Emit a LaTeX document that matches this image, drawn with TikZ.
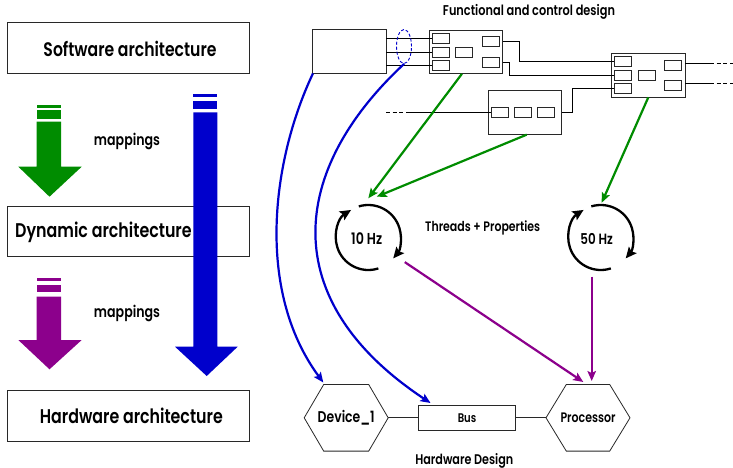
\documentclass[tikz,border=0pt]{standalone}
\usepackage{fontspec}
\setmainfont{Poppins}[FakeStretch=0.8,BoldFont={* SemiBold}]
\usetikzlibrary{arrows.meta,shapes.geometric,calc}
\definecolor{mgreen}{RGB}{0,140,0}
\definecolor{mblue}{RGB}{0,0,204}
\definecolor{mpurple}{RGB}{140,0,140}
\definecolor{edge}{RGB}{40,40,40}
\newcommand{\fitw}[2]{\resizebox{#1}{!}{#2}}
\begin{document}
\begin{tikzpicture}[x=1pt,y=-1pt,
  archbox/.style={draw=edge,line width=0.8pt,minimum width=242pt,inner sep=0pt},
  bigtxt/.style={font=\bfseries\fontsize{12}{14}\selectfont},
  smalltxt/.style={font=\bfseries\fontsize{8.5}{10}\selectfont},
  module/.style={draw=edge,line width=0.8pt,minimum width=73.5pt,minimum height=43.5pt,inner sep=0pt},
  port/.style={draw=edge,line width=0.8pt,minimum width=17pt,minimum height=10pt,inner sep=0pt},
  wire/.style={draw=black,line width=0.7pt},
  dwire/.style={draw=black,line width=0.7pt,dash pattern=on 4pt off 2.7pt},
  hex/.style={draw=edge,line width=0.8pt},
  garrow/.style={draw=mgreen,line width=2.2pt,-{Stealth[length=10pt,width=8.5pt,inset=2pt]}},
  barrow/.style={draw=mblue,line width=2.2pt,-{Stealth[length=10pt,width=8.5pt,inset=2pt]}},
  parrow/.style={draw=mpurple,line width=2.2pt,-{Stealth[length=10pt,width=8.5pt,inset=2pt]}},
  cyc/.style={draw=black,line width=2.3pt,-{Stealth[length=11pt,width=10pt,inset=2pt]}},
  cnode/.style={circle,minimum size=65pt,inner sep=0pt}
]
\useasboundingbox[fill=white] (0,0) rectangle (733,468);

% ---------- left column ----------
\node[archbox,minimum height=50.6pt] (sw) at (128.3,48) {};
\node[bigtxt,inner sep=0pt] (swtxt) at (130,48.5) {\fitw{173pt}{Software architecture}};
\node[archbox,minimum height=50pt] (dyn) at (128.3,231.7) {};
\node[archbox,minimum height=51pt] (hw) at (128.3,415.5) {};
\node[bigtxt,inner sep=0pt] (hwtxt) at (131.3,416) {\fitw{183pt}{Hardware architecture}};

% green block arrow
\fill[mgreen] (36.7,105) rectangle (61,107.7);
\fill[mgreen] (36.7,110) rectangle (61,119.3);
\fill[mgreen] (36.7,121.7) -- (61,121.7) -- (61,166.7) -- (81.7,166.7) -- (49.5,196.7) -- (18.3,166.7) -- (36.7,166.7) -- cycle;
% purple block arrow
\fill[mpurple] (36.7,278.3) rectangle (61,281);
\fill[mpurple] (36.7,285) rectangle (61,292.3);
\fill[mpurple] (36.7,296.7) -- (61,296.7) -- (61,340) -- (81.7,340) -- (49.5,369.3) -- (18.3,340) -- (36.7,340) -- cycle;
% blue block arrow
\fill[mblue] (193.3,94.3) rectangle (217.3,97.3);
\fill[mblue] (193.3,101) rectangle (217.3,109);
\fill[mblue] (193.3,112.3) -- (217.3,112.3) -- (217.3,346.7) -- (237.7,346.7) -- (206.7,376) -- (175,346.7) -- (193.3,346.7) -- cycle;

\node[bigtxt,anchor=west,inner sep=0pt] (dyntxt) at (15,232.5) {\fitw{176.5pt}{Dynamic architecture}};
\node[smalltxt,inner sep=0pt] (map1) at (127,141.7) {\fitw{66pt}{mappings}};
\node[smalltxt,inner sep=0pt] (map2) at (127,313.3) {\fitw{66pt}{mappings}};

% ---------- functional and control design ----------
\node[smalltxt,inner sep=0pt] (fctitle) at (529,11.7) {\fitw{172pt}{Functional and control design}};
\node[module,minimum width=73.7pt,minimum height=43.7pt] (cbox) at (349.2,51.2) {};

\node[module] (m1) at (465.9,51.7) {};
\node[port] (p1a) at (440.8,38.3) {};
\node[port] (p1b) at (440.8,52) {};
\node[port] (p1c) at (440.8,65.7) {};
\node[port] (p1m) at (464.2,52) {};
\node[port] (p1d) at (490.8,41.7) {};
\node[port] (p1e) at (490.8,62) {};

\node[module] (m2) at (648.3,75.2) {};
\node[port] (p2a) at (622.8,61.3) {};
\node[port] (p2b) at (622.8,75) {};
\node[port] (p2c) at (622.8,88.3) {};
\node[port] (p2m) at (646.7,75) {};
\node[port] (p2d) at (673,65.3) {};
\node[port] (p2e) at (673,85.3) {};

\node[module] (m3) at (525,112.5) {};
\node[port] (p3a) at (500,112.5) {};
\node[port] (p3b) at (523.3,112.5) {};
\node[port] (p3c) at (546.3,112.5) {};

% wires
\draw[wire] (cbox.east |- p1a) -- (p1a.west);
\draw[wire] (cbox.east |- p1b) -- (p1b.west);
\draw[wire] (cbox.east |- p1c) -- (p1c.west);
\draw[wire] (m1.east |- p1d) -- ++(16.6,0) |- (p2a.west);
\draw[wire] (m1.east |- p1e) -- ++(6.6,0) |- (p2b.west);
\draw[wire] (m3.east |- p3c) -- ++(10,0) |- (p2c.west);

\coordinate (m3in) at (386,112.5);
\coordinate (m3sol) at (406.7,112.5);
\draw[dwire] (m3in) -- (m3sol);
\draw[wire] (m3sol) -- (p3a.west);

\coordinate (o1) at (710,63.3);
\coordinate (o1e) at (733,63.3);
\coordinate (o2) at (710,83.3);
\coordinate (o2e) at (733,83.3);
\draw[wire] (m2.east |- o1) -- (o1);
\draw[dwire] (o1) -- (o1e);
\draw[wire] (m2.east |- o2) -- (o2);
\draw[dwire] (o2) -- (o2e);

\node[draw=mblue,dash pattern=on 3pt off 2pt,ellipse,line width=0.9pt,minimum width=15pt,minimum height=34pt,inner sep=0pt] (bundle) at (404,46.5) {};

% ---------- threads ----------
\node[cnode,smalltxt] (c10) at (368.3,237.5) {};
\node[cnode,smalltxt] (c50) at (600.8,237.5) {};
\node[smalltxt,inner sep=0pt] (t10) at (366.7,239) {\fitw{31pt}{10 Hz}};
\node[smalltxt,inner sep=0pt] (t50) at (596.7,239) {\fitw{32.5pt}{50 Hz}};
\node[smalltxt,inner sep=0pt] (thr) at (482.7,227.5) {\fitw{115pt}{Threads + Properties}};

\draw[cyc] ($(c10)+(-107:32.5)$) arc[start angle=-107,end angle=40,radius=32.5];
\draw[cyc] ($(c10)+(72:32.5)$) arc[start angle=72,end angle=238,radius=32.5];
\draw[cyc] ($(c50)+(-107:32.5)$) arc[start angle=-107,end angle=40,radius=32.5];
\draw[cyc] ($(c50)+(72:32.5)$) arc[start angle=72,end angle=238,radius=32.5];

% green mapping arrows
\coordinate (g1end) at (368.3,198.3);
\coordinate (g2end) at (376.7,196.7);
\coordinate (g3end) at (601.7,202.7);
\draw[garrow] ([xshift=-4pt]m1.south) -- (g1end);
\draw[garrow] ([xshift=1.7pt]m3.south) -- (g2end);
\draw[garrow] (m2.south) -- (g3end);

% ---------- hardware ----------
\node[smalltxt,inner sep=0pt] (dev) at (346.2,417.8) {\fitw{57pt}{Device\_1}};
\node[smalltxt,inner sep=0pt] (proc) at (588,417.8) {\fitw{55pt}{Processor}};
\node[draw=edge,line width=0.8pt,minimum width=97.4pt,minimum height=25.7pt,inner sep=0pt,smalltxt] (bus) at (467,417.8) {\fitw{18.5pt}{Bus}};
\draw[hex] ($(dev)+(-42,0)$) -- ($(dev)+(-22.5,-33.3)$) -- ($(dev)+(22.5,-33.3)$) -- ($(dev)+(42,0)$) -- ($(dev)+(22.5,33.3)$) -- ($(dev)+(-22.5,33.3)$) -- cycle;
\draw[hex] ($(proc)+(-42,0)$) -- ($(proc)+(-21.7,-33.3)$) -- ($(proc)+(21.7,-33.3)$) -- ($(proc)+(42,0)$) -- ($(proc)+(21.7,33.3)$) -- ($(proc)+(-21.7,33.3)$) -- cycle;
\coordinate (devR) at ($(dev)+(42,0)$);
\coordinate (procL) at ($(proc)+(-42,0)$);
\draw[wire,draw=edge] (devR) -- (bus.west);
\draw[wire,draw=edge] (bus.east) -- (procL);
\node[smalltxt,inner sep=0pt] (hwd) at (464.3,460.7) {\fitw{98pt}{Hardware Design}};

% blue mapping curves
\coordinate (b1end) at (323.3,382.5);
\coordinate (b2end) at (430.5,403);
\draw[barrow] ([xshift=1pt]cbox.south west) .. controls (272,160) and (255,290) .. (b1end);
\draw[barrow] (bundle.south) .. controls (290,170) and (275,300) .. (b2end);

% purple mapping arrows
\coordinate (pu1s) at ($(c10)+(34:44)$);
\coordinate (pu1e) at (583.3,382);
\coordinate (pu2s) at (591.7,276.5);
\coordinate (pu2e) at (591.7,381);
\draw[parrow] (pu1s) -- (pu1e);
\draw[parrow] (pu2s) -- (pu2e);
\end{tikzpicture}
\end{document}
